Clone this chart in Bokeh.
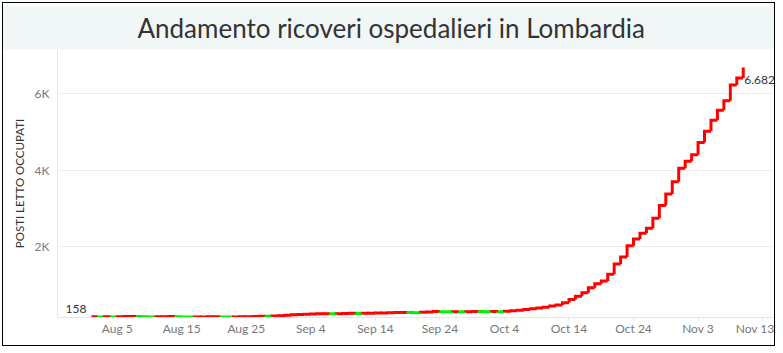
import pandas as pd
from bokeh.plotting import figure
from bokeh.models import Range1d, FixedTicker, Label, ColumnDataSource, Title
from bokeh.embed import file_html
from bokeh.resources import INLINE

# ---- data ----
start_date = "2020-08-01"
values = [158, 155, 160, 157, 161, 165, 169, 165, 161, 157,
          159, 162, 166, 162, 157, 152, 154, 156, 158, 160,
          156, 152, 154, 158, 162, 167, 173, 171, 180, 190,
          200, 210, 218, 225, 230, 236, 240, 236, 242, 246,
          250, 247, 251, 255, 258, 262, 266, 270, 275, 271,
          268, 276, 285, 295, 292, 289, 294, 291, 294, 298,
          295, 291, 296, 293, 303, 315, 330, 350, 370, 390,
          410, 440, 470, 525, 615, 700, 790, 920, 1025, 1095,
          1270, 1540, 1724, 2018, 2193, 2349, 2480, 2740, 3070, 3374,
          3695, 4044, 4230, 4400, 4722, 5017, 5304, 5565, 5815, 6225,
          6412, 6682]
tick_dates = ["2020-08-05", "2020-08-15", "2020-08-25", "2020-09-04", "2020-09-14",
              "2020-09-24", "2020-10-04", "2020-10-14", "2020-10-24", "2020-11-03",
              "2020-11-13"]
tick_labels = ["Aug 5", "Aug 15", "Aug 25", "Sep 4", "Sep 14", "Sep 24",
               "Oct 4", "Oct 14", "Oct 24", "Nov 3", "Nov 13"]
y_ticks = [2000, 4000, 6000]
y_tick_labels = ["2K", "4K", "6K"]
title_text = "Andamento ricoveri ospedalieri in Lombardia"
y_title = "POSTI LETTO OCCUPATI"

UP = "#ff0000"
DOWN = "#00ee00"

# ---- derived ----
t0 = pd.Timestamp(start_date)
dates = pd.date_range(start_date, periods=len(values), freq="D")
days = [(d - t0).days for d in dates]
tick_pos = [(pd.Timestamp(d) - t0).days for d in tick_dates]

xs, ys, cols = [], [], []
n = len(values)
for i in range(n):
    if i == 0:
        xs.append([days[0], days[1]])
        ys.append([values[0], values[0]])
        cols.append(UP)
        continue
    x_end = days[i + 1] if i < n - 1 else days[i]
    xs.append([days[i], days[i], x_end])
    ys.append([values[i - 1], values[i], values[i]])
    cols.append(UP if values[i] >= values[i - 1] else DOWN)

src = ColumnDataSource(dict(xs=xs, ys=ys, color=cols))

p = figure(width=773, height=344, output_backend="svg", toolbar_location=None,
           x_range=Range1d(-5.26, 106.0), y_range=Range1d(141, 7155),
           min_border_left=54, min_border_right=1, min_border_top=45,
           min_border_bottom=30,
           styles={"border": "1.5px solid black", "margin-left": "2px",
                   "margin-top": "2px"})
p.title = Title(text=title_text, align="left", text_font="Lato",
                text_font_size="26px", text_font_style="normal",
                text_color="#333333", background_fill_color="#f1f7f7",
                padding=(134, 6), offset=-54, standoff=0)
p.outline_line_color = None
p.background_fill_color = "white"
p.border_fill_color = "white"

p.multi_line(xs="xs", ys="ys", line_color="color", line_width=3,
             line_join="miter", line_cap="butt", source=src)

# axes
xa = p.xaxis[0]
xa.ticker = FixedTicker(ticks=tick_pos)
xa.major_label_overrides = {t: l for t, l in zip(tick_pos, tick_labels)}
xa.axis_line_color = "#e6e6e6"
xa.major_tick_line_color = "#e6e6e6"
xa.major_tick_out = 3
xa.major_tick_in = 0
xa.minor_tick_line_color = None
xa.major_label_standoff = 0
xa.major_label_text_font = "Lato"
xa.major_label_text_font_size = "12px"
xa.major_label_text_color = "#777777"

ya = p.yaxis[0]
ya.ticker = FixedTicker(ticks=y_ticks)
ya.major_label_overrides = {t: l for t, l in zip(y_ticks, y_tick_labels)}
ya.axis_line_color = "#e6e6e6"
ya.major_tick_line_color = None
ya.major_tick_out = 0
ya.major_tick_in = 0
ya.minor_tick_line_color = None
ya.major_label_standoff = 8
ya.major_label_text_font = "Lato"
ya.major_label_text_font_size = "12px"
ya.major_label_text_color = "#777777"
ya.axis_label = y_title
ya.axis_label_standoff = 6
ya.axis_label_text_font = "Lato"
ya.axis_label_text_font_size = "11.5px"
ya.axis_label_text_font_style = "normal"
ya.axis_label_text_color = "#333333"

p.xgrid.grid_line_color = None
p.ygrid.grid_line_color = "#eeeeee"
p.ygrid.ticker = FixedTicker(ticks=y_ticks)

# end labels
fmt = lambda v: f"{v:,}".replace(",", ".")
p.add_layout(Label(x=days[0], y=values[0], x_offset=-5, y_offset=8,
                   text=fmt(values[0]), text_align="right", text_baseline="middle",
                   text_font="Lato", text_font_size="12px", text_color="#333333"))
p.add_layout(Label(x=days[-1], y=values[-1], x_offset=1, y_offset=-12,
                   text=fmt(values[-1]), text_align="left", text_baseline="middle",
                   text_font="Lato", text_font_size="12px", text_color="#333333"))

open("out.html", "w").write(file_html(p, INLINE))
